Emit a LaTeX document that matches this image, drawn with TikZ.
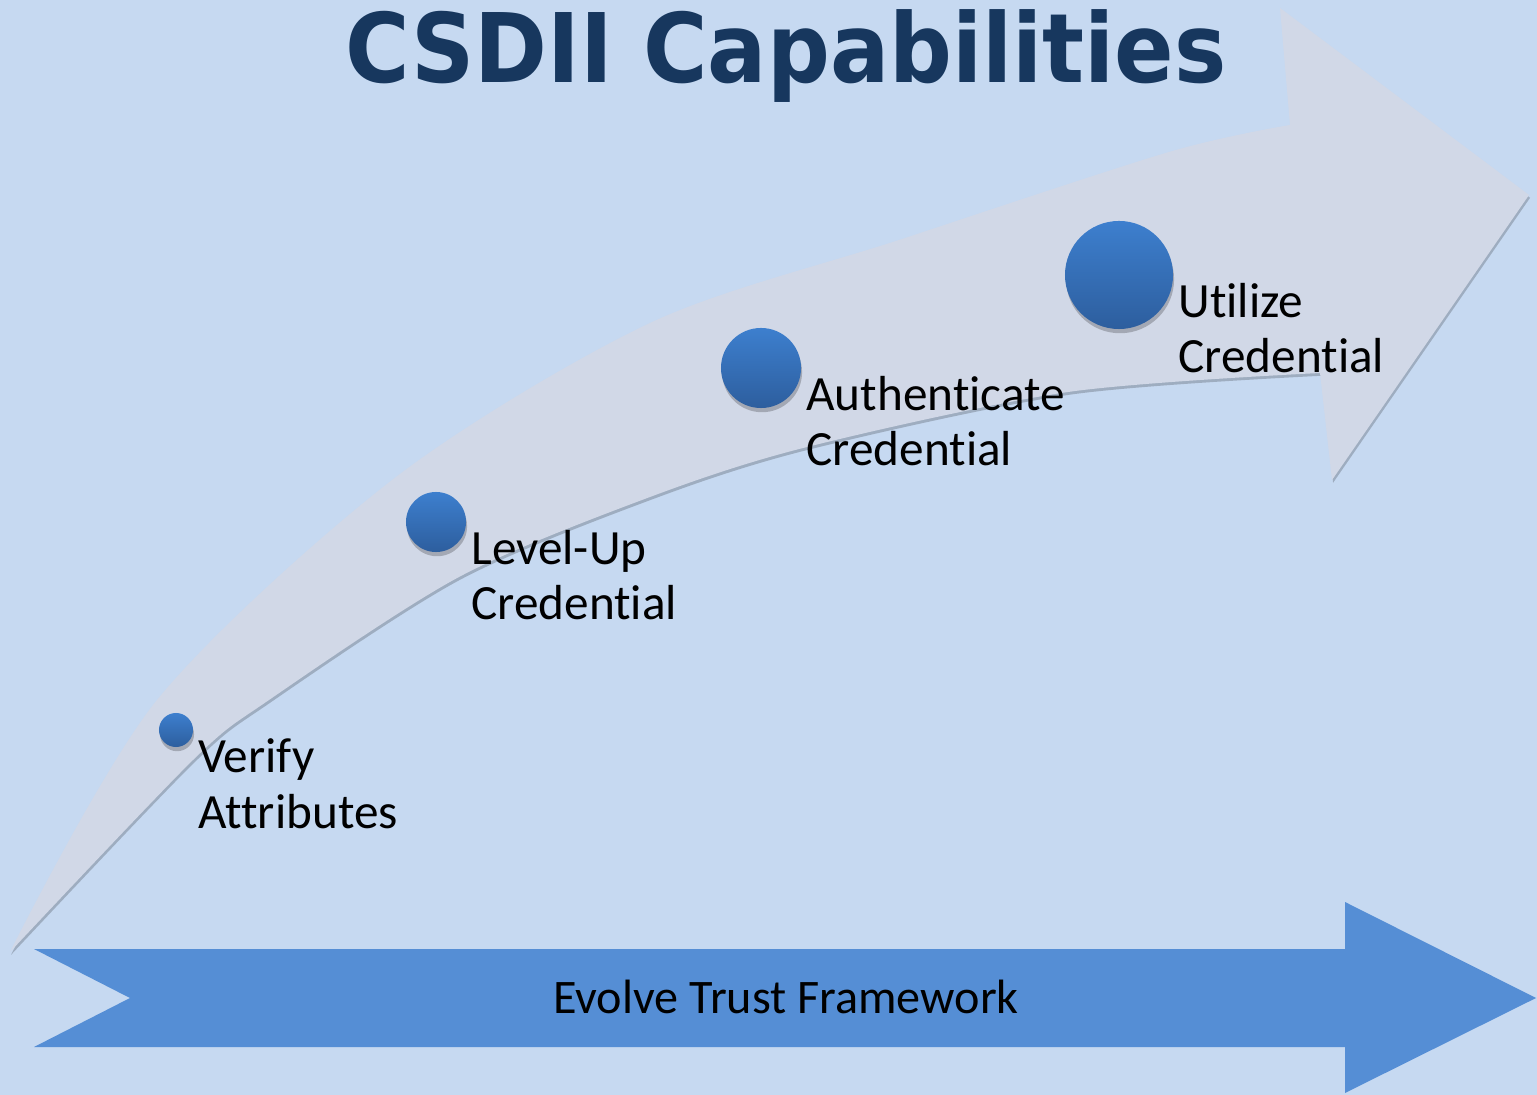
\documentclass[tikz,border=0pt]{standalone}
\usepackage{fontspec}
\setmainfont{Carlito}[Ligatures=NoCommon]
\newfontfamily\titrefont{DejaVu Sans}
\usetikzlibrary{shadows}
\definecolor{fond}{HTML}{C6D9F1}
\definecolor{bande}{HTML}{D1D8E7}
\definecolor{fleche}{HTML}{558ED5}
\definecolor{titre}{HTML}{17375E}
\definecolor{bouleh}{HTML}{3D7FCE}
\definecolor{bouleb}{HTML}{2D5E9E}

\begin{document}
\begin{tikzpicture}[x=0.01cm,y=-0.01cm]
\tikzstyle{libelle}=[anchor=base west,align=left,inner sep=0pt,font=\fontsize{14}{15.9}\selectfont]
\tikzset{boule/.style={circle,inner sep=0pt,minimum size=#1,top color=bouleh,bottom color=bouleb,
drop shadow={shadow xshift=0.3pt,shadow yshift=-1.2pt,opacity=0.22,fill=black}},
boule/.default={0.6cm}}

\fill[fond] (0,0) rectangle (1537,1095);
\useasboundingbox (0,0) rectangle (1537,1095);

% fleche courbe
\fill[bande,drop shadow={shadow xshift=0.3pt,shadow yshift=-0.8pt,opacity=0.2,fill=black}]
  (10,952) -- plot[smooth] coordinates {(10,952) (157,700) (396,477) (650,323) (899,240) (1169,152) (1290,125)}
  -- (1280,8) -- (1529,195) -- (1332,480) -- (1320,373)
  -- plot[smooth] coordinates {(1320,373) (1068,392) (807,447) (650,497) (459,577) (269,700) (193,760) (10,952)}
  -- cycle;

% fleche du bas
\fill[fleche] (34,949) -- (1345,949) -- (1345,902) -- (1536,998) -- (1345,1093)
  -- (1345,1047) -- (34,1047) -- (130,998) -- cycle;
\node[anchor=base,font=\fontsize{13.7}{16}\selectfont] (F) at (786,1013) {Evolve Trust Framework};

% titre
\node[text=titre,anchor=base,xscale=0.915,font=\titrefont\bfseries\fontsize{27.3}{30}\selectfont] (T) at (786,83) {CSDII Capabilities};

% etapes
\node[boule=0.34cm] (C1) at (176,730) {};
\node[boule] (C2) at (436,522) {};
\node[boule=0.8cm] (C3) at (761,368) {};
\node[boule=1.08cm] (C4) at (1119,275) {};

\node[libelle] (L1) at ([shift={(4,98)}]C1.east) {Verify\\Attributes};
\node[libelle] (L2) at ([shift={(4,98)}]C2.east) {Level-Up\\Credential};
\node[libelle] (L3) at ([shift={(4,98)}]C3.east) {Authenticate\\Credential};
\node[libelle] (L4) at ([shift={(4,98)}]C4.east) {Utilize\\Credential};

\end{tikzpicture}
\end{document}
